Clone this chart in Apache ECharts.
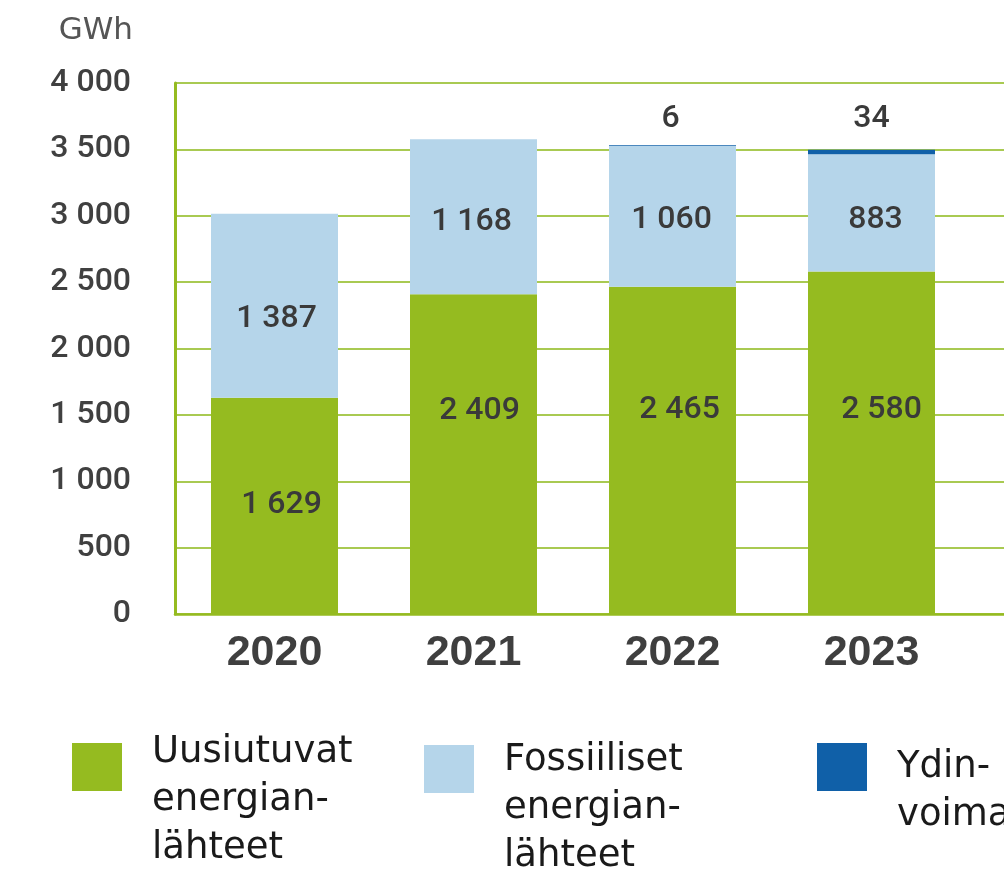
<!DOCTYPE html>
<html>
<head>
<meta charset="utf-8">
<script src="https://cdn.jsdelivr.net/npm/echarts@6/dist/echarts.min.js"></script>
<style>
html, body { margin: 0; padding: 0; background: #fff; overflow: hidden; }
/* the source picture is cropped on the right, so the chart is wider than the window */
#chart { width: 1200px; height: 870px; }
</style>
</head>
<body>
<div id="chart"></div>
<script>
// data (GWh)
var years = ['2020', '2021', '2022', '2023']
var renewable = [1629, 2409, 2465, 2580]
var fossil = [1387, 1168, 1060, 883]
var nuclear = [null, null, 6, 34]
var yTicks = [0, 500, 1000, 1500, 2000, 2500, 3000, 3500, 4000]

var names = ['Uusiutuvat energianlähteet', 'Fossiiliset energianlähteet', 'Ydinvoima']
var legendLines = [
  ['Uusiutuvat', 'energian-', 'lähteet'],
  ['Fossiiliset', 'energian-', 'lähteet'],
  ['Ydin-', 'voima']
]
var colors = ['#95bb20', '#b5d5ea', '#1060a8']

function fmt (v) {
  if (v == null) return ''
  return String(v).replace(/\B(?=(\d{3})+(?!\d))/g, ' ')
}

var myChart = echarts.init(document.getElementById('chart'))

// label shifts
var renewShift = [[7, -1], [6, -43], [7, -40], [10, -33]]
var fossilShift = [[2, 13], [-2, 5], [-1, 4], [4, 7]]
var nuclearShift = [[0, 0], [0, 0], [-2, 2], [0, -3]]

var labelFont = {
  fontFamily: 'Roboto',
  fontSize: 32,
  fontWeight: 500,
  color: '#3a3a3a'
}

// one legend per item, text starts at the top of the square
function legendFor (i, left, top, spacer) {
  return {
    data: [names[i]],
    left: left,
    top: top,
    padding: 0,
    icon: 'rect',
    itemWidth: 50,
    itemHeight: 48,
    itemGap: 0,
    selectedMode: false,
    formatter: function () {
      return '{p| }\n' + legendLines[i].map(function (s) { return '{t|' + s + '}' }).join('\n')
    },
    textStyle: {
      rich: {
        p: { fontSize: 10, lineHeight: spacer, height: spacer },
        t: {
          fontFamily: 'DejaVu Sans',
          fontSize: 37,
          lineHeight: 48,
          color: '#1a1a1a',
          padding: [0, 0, 0, 25]
        }
      }
    }
  }
}

var option = {
  backgroundColor: '#ffffff',
  animation: false,
  grid: {
    left: 175,
    top: 83,
    width: 995,
    height: 531
  },
  legend: [
    legendFor(0, 72, 662, 66),
    legendFor(1, 424, 658, 78),
    legendFor(2, 817, 695, 48)
  ],
  xAxis: {
    type: 'category',
    data: years,
    max: 4,
    axisTick: { show: false },
    axisLine: { lineStyle: { color: '#95bb20', width: 2.5 } },
    axisLabel: {
      margin: 18,
      fontFamily: 'Liberation Sans',
      fontSize: 43,
      fontWeight: 'bold',
      color: '#3f3f3f'
    }
  },
  yAxis: {
    type: 'value',
    min: 0,
    max: yTicks[yTicks.length - 1],
    interval: yTicks[1] - yTicks[0],
    name: 'GWh',
    nameLocation: 'end',
    nameGap: 52,
    nameTextStyle: {
      fontFamily: 'DejaVu Sans',
      fontSize: 31,
      color: '#555555',
      align: 'right',
      verticalAlign: 'middle',
      padding: [0, 42, 0, 0]
    },
    axisLine: { show: true, lineStyle: { color: '#95bb20', width: 3 } },
    axisTick: { show: false },
    splitLine: { lineStyle: { color: '#a9ca52', width: 1.8 } },
    axisLabel: {
      margin: 44,
      fontFamily: 'Roboto',
      fontSize: 32,
      fontWeight: 500,
      color: '#404040',
      formatter: function (v) { return fmt(v) }
    }
  },
  series: [
    {
      name: names[0],
      type: 'bar',
      stack: 'total',
      barWidth: 127,
      itemStyle: { color: colors[0] },
      data: renewable.map(function (v, i) {
        return { value: v, label: { offset: renewShift[i] } }
      }),
      label: Object.assign({ show: true, position: 'inside', formatter: function (p) { return fmt(p.value) } }, labelFont)
    },
    {
      name: names[1],
      type: 'bar',
      stack: 'total',
      barWidth: 127,
      itemStyle: { color: colors[1] },
      data: fossil.map(function (v, i) {
        return { value: v, label: { offset: fossilShift[i] } }
      }),
      label: Object.assign({ show: true, position: 'inside', formatter: function (p) { return fmt(p.value) } }, labelFont)
    },
    {
      name: names[2],
      type: 'bar',
      stack: 'total',
      barWidth: 127,
      itemStyle: { color: colors[2] },
      data: nuclear.map(function (v, i) {
        return { value: v, label: { offset: nuclearShift[i] } }
      }),
      label: Object.assign({ show: true, position: 'top', distance: 12, formatter: function (p) { return fmt(p.value) } }, labelFont)
    }
  ]
}

myChart.setOption(option)
</script>
</body>
</html>
